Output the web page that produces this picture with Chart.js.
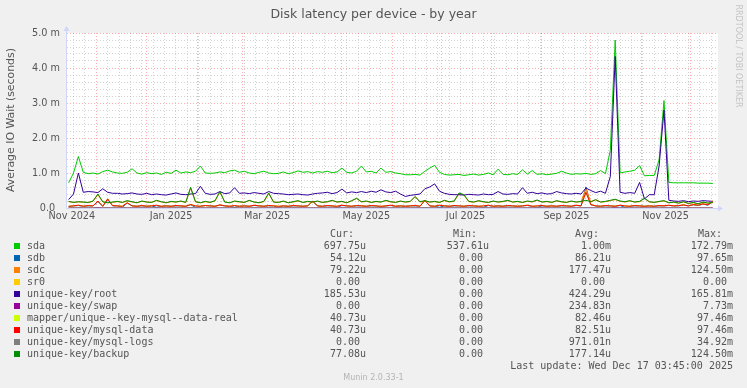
<!DOCTYPE html>
<html>
<head>
<meta charset="utf-8">
<title>Disk latency per device - by year</title>
<script src="https://cdn.jsdelivr.net/npm/chart.js@4.4.1/dist/chart.umd.min.js"></script>
<style>
  html, body { margin: 0; padding: 0; background: #f0f0f0; }
  #wrap { position: relative; width: 747px; height: 388px; overflow: hidden; font-family: 'DejaVu Sans', sans-serif; color: #555; }
  #c { position: absolute; left: 0; top: 0; }
  .t { position: absolute; white-space: pre; }
  .mono { font-family: 'DejaVu Sans Mono', monospace; font-size: 10px; line-height: 12px; }
  .box { position: absolute; width: 6px; height: 6px; }
</style>
</head>
<body>
<div id="wrap">
  <canvas id="c" width="747" height="388"></canvas>
  <div class="t" style="left:0;width:747px;top:6px;text-align:center;font-size:12.5px;line-height:16px;">Disk latency per device - by year</div>
  <div class="t" style="left:-89px;top:113px;width:200px;text-align:center;font-size:10.9px;line-height:14px;transform:rotate(-90deg);">Average IO Wait (seconds)</div>
  <div class="t" style="left:678px;top:51px;width:120px;text-align:center;font-size:8px;line-height:10px;color:#c4c4c4;transform:rotate(90deg);">RRDTOOL / TOBI OETIKER</div>
  <div id="legend"></div>
  <div class="t" style="left:0;width:747px;top:373px;text-align:center;font-size:8px;line-height:10px;color:#b4b4b4;">Munin 2.0.33-1</div>
</div>
<script>
// x positions: one point every 3 days, counted in days after 1 Nov 2024
const startDay = 13;
const stepDays = 3;
const xMin = 12.0;
const xMax = 412.2;

// values in milliseconds (axis shows "m")
const sda = [
  0.72, 1.00, 1.47, 1.02, 0.98, 1.00, 0.97, 1.04, 1.08, 1.03,
  1.00, 0.99, 1.02, 1.12, 1.00, 0.97, 1.01, 0.98, 1.00, 0.96,
  1.02, 0.99, 1.08, 1.00, 1.03, 1.01, 1.05, 1.20, 1.00, 0.99,
  1.00, 1.03, 1.01, 1.06, 1.08, 1.02, 1.05, 1.00, 0.98, 1.02,
  1.05, 1.00, 0.98, 0.99, 1.03, 0.98, 1.01, 1.06, 1.02, 1.04,
  1.00, 1.04, 1.02, 1.05, 1.01, 1.03, 1.14, 1.02, 1.00, 1.05,
  1.20, 1.03, 1.05, 1.00, 1.14, 1.02, 1.04, 1.00, 0.98, 0.95,
  0.95, 0.96, 0.94, 1.05, 1.14, 1.22, 1.02, 0.96, 0.94, 0.95,
  0.96, 0.93, 0.95, 0.97, 0.94, 0.96, 1.00, 0.95, 1.11, 0.96,
  0.95, 0.98, 0.96, 1.09, 0.97, 1.07, 0.96, 0.98, 0.95, 0.97,
  0.99, 1.05, 1.00, 0.96, 0.98, 0.97, 0.99, 0.96, 0.98, 1.07,
  0.98, 1.65, 4.80, 1.00, 1.03, 1.05, 1.08, 1.21, 0.92, 0.93,
  0.93, 1.38, 3.07, 0.73, 0.72, 0.72, 0.72, 0.72, 0.72, 0.71,
  0.71, 0.71, 0.70
];
const sdb = [
  0.04, 0.06, 0.07, 0.05, 0.06, 0.06, 0.18, 0.05, 0.24, 0.06,
  0.06, 0.02, 0.14, 0.06, 0.05, 0.06, 0.05, 0.06, 0.02, 0.05,
  0.06, 0.05, 0.06, 0.06, 0.05, 0.09, 0.02, 0.05, 0.07, 0.06,
  0.05, 0.08, 0.06, 0.05, 0.02, 0.05, 0.06, 0.05, 0.07, 0.06,
  0.05, 0.06, 0.06, 0.02, 0.06, 0.05, 0.06, 0.06, 0.05, 0.06,
  0.19, 0.06, 0.05, 0.06, 0.06, 0.02, 0.07, 0.06, 0.05, 0.06,
  0.06, 0.05, 0.06, 0.06, 0.02, 0.06, 0.07, 0.05, 0.06, 0.05,
  0.06, 0.06, 0.05, 0.21, 0.06, 0.05, 0.02, 0.06, 0.05, 0.06,
  0.06, 0.05, 0.06, 0.06, 0.05, 0.02, 0.07, 0.05, 0.06, 0.05,
  0.06, 0.06, 0.05, 0.06, 0.07, 0.05, 0.02, 0.06, 0.05, 0.06,
  0.05, 0.06, 0.06, 0.05, 0.07, 0.06, 0.60, 0.09, 0.06, 0.05,
  0.06, 0.06, 0.05, 0.07, 0.02, 0.05, 0.06, 0.06, 0.05, 0.06,
  0.05, 0.06, 0.06, 0.07, 0.06, 0.06, 0.08, 0.06, 0.09, 0.07,
  0.11, 0.08, 0.18
];
const sdc = [
  0.18, 0.16, 0.17, 0.17, 0.15, 0.19, 0.38, 0.17, 0.15, 0.16,
  0.18, 0.16, 0.20, 0.17, 0.15, 0.19, 0.17, 0.16, 0.21, 0.17,
  0.15, 0.18, 0.17, 0.19, 0.16, 0.57, 0.17, 0.15, 0.18, 0.16,
  0.20, 0.45, 0.17, 0.15, 0.19, 0.17, 0.16, 0.21, 0.17, 0.15,
  0.18, 0.41, 0.17, 0.16, 0.19, 0.15, 0.17, 0.20, 0.16, 0.18,
  0.17, 0.19, 0.16, 0.17, 0.21, 0.17, 0.18, 0.15, 0.20, 0.27,
  0.17, 0.19, 0.16, 0.18, 0.17, 0.21, 0.17, 0.16, 0.19, 0.17,
  0.18, 0.32, 0.17, 0.20, 0.17, 0.18, 0.16, 0.21, 0.17, 0.19,
  0.41, 0.37, 0.18, 0.17, 0.20, 0.17, 0.16, 0.19, 0.17, 0.18,
  0.21, 0.17, 0.18, 0.16, 0.19, 0.17, 0.22, 0.17, 0.18, 0.16,
  0.20, 0.17, 0.16, 0.19, 0.17, 0.18, 0.55, 0.17, 0.23, 0.17,
  0.18, 0.21, 0.24, 0.19, 0.17, 0.20, 0.17, 0.18, 0.27, 0.17,
  0.16, 0.18, 0.20, 0.15, 0.16, 0.14, 0.17, 0.13, 0.15, 0.12,
  0.16, 0.14, 0.15
];
const sr0 = [
  0, 0, 0, 0, 0, 0, 0, 0, 0, 0,
  0, 0, 0, 0, 0, 0, 0, 0, 0, 0,
  0, 0, 0, 0, 0, 0, 0, 0, 0, 0,
  0, 0, 0, 0, 0, 0, 0, 0, 0, 0,
  0, 0, 0, 0, 0, 0, 0, 0, 0, 0,
  0, 0, 0, 0, 0, 0, 0, 0, 0, 0,
  0, 0, 0, 0, 0, 0, 0, 0, 0, 0,
  0, 0, 0, 0, 0, 0, 0, 0, 0, 0,
  0, 0, 0, 0, 0, 0, 0, 0, 0, 0,
  0, 0, 0, 0, 0, 0, 0, 0, 0, 0,
  0, 0, 0, 0, 0, 0, 0, 0, 0, 0,
  0, 0, 0, 0, 0, 0, 0, 0, 0, 0,
  0, 0, 0, 0, 0, 0, 0, 0, 0, 0,
  0, 0, 0
];
const root = [
  0.24, 0.40, 1.00, 0.45, 0.47, 0.46, 0.44, 0.55, 0.45, 0.42,
  0.42, 0.40, 0.41, 0.43, 0.40, 0.39, 0.42, 0.38, 0.40, 0.38,
  0.37, 0.40, 0.43, 0.39, 0.38, 0.40, 0.41, 0.62, 0.42, 0.39,
  0.40, 0.47, 0.41, 0.43, 0.58, 0.42, 0.43, 0.41, 0.44, 0.42,
  0.40, 0.47, 0.42, 0.41, 0.40, 0.38, 0.39, 0.40, 0.38, 0.37,
  0.40, 0.42, 0.43, 0.45, 0.41, 0.44, 0.54, 0.43, 0.46, 0.44,
  0.47, 0.44, 0.48, 0.45, 0.52, 0.46, 0.44, 0.48, 0.40, 0.33,
  0.36, 0.38, 0.40, 0.55, 0.60, 0.69, 0.48, 0.42, 0.39, 0.38,
  0.38, 0.37, 0.39, 0.38, 0.37, 0.40, 0.38, 0.39, 0.47, 0.40,
  0.39, 0.41, 0.40, 0.58, 0.42, 0.45, 0.41, 0.43, 0.40, 0.41,
  0.47, 0.43, 0.41, 0.40, 0.42, 0.40, 0.57, 0.50, 0.44, 0.48,
  0.42, 0.90, 4.33, 0.45, 0.42, 0.44, 0.42, 0.73, 0.26, 0.38,
  0.38, 1.20, 2.80, 0.22, 0.20, 0.19, 0.21, 0.18, 0.20, 0.19,
  0.21, 0.20, 0.19
];
const swap = [
  0, 0, 0, 0, 0, 0, 0.01, 0, 0, 0,
  0, 0, 0, 0, 0, 0, 0, 0, 0, 0,
  0, 0, 0, 0, 0, 0, 0, 0, 0, 0,
  0, 0, 0, 0, 0, 0, 0, 0, 0, 0,
  0, 0, 0, 0, 0, 0, 0, 0, 0, 0,
  0, 0, 0, 0, 0, 0, 0, 0, 0, 0,
  0, 0, 0, 0, 0, 0, 0, 0, 0, 0,
  0, 0, 0, 0, 0, 0, 0, 0, 0, 0,
  0, 0, 0, 0, 0, 0, 0, 0, 0, 0,
  0, 0, 0, 0, 0, 0, 0, 0, 0, 0,
  0, 0, 0, 0, 0, 0, 0, 0, 0, 0,
  0, 0, 0.01, 0, 0, 0, 0, 0, 0, 0,
  0, 0, 0, 0, 0, 0, 0, 0, 0, 0,
  0, 0, 0
];
const mapperData = [
  0.05, 0.06, 0.08, 0.05, 0.07, 0.06, 0.20, 0.05, 0.26, 0.07,
  0.06, 0.05, 0.15, 0.06, 0.05, 0.07, 0.05, 0.06, 0.08, 0.05,
  0.06, 0.05, 0.07, 0.06, 0.05, 0.10, 0.06, 0.05, 0.07, 0.06,
  0.05, 0.09, 0.06, 0.05, 0.07, 0.05, 0.06, 0.05, 0.08, 0.06,
  0.05, 0.07, 0.06, 0.05, 0.06, 0.05, 0.07, 0.06, 0.05, 0.06,
  0.20, 0.06, 0.05, 0.07, 0.06, 0.05, 0.08, 0.06, 0.05, 0.07,
  0.06, 0.05, 0.07, 0.06, 0.05, 0.06, 0.08, 0.05, 0.06, 0.05,
  0.06, 0.07, 0.05, 0.22, 0.06, 0.05, 0.08, 0.06, 0.05, 0.07,
  0.06, 0.05, 0.07, 0.06, 0.05, 0.06, 0.08, 0.05, 0.06, 0.05,
  0.07, 0.06, 0.05, 0.06, 0.08, 0.05, 0.06, 0.07, 0.05, 0.06,
  0.05, 0.07, 0.06, 0.05, 0.08, 0.06, 0.45, 0.10, 0.06, 0.05,
  0.07, 0.06, 0.05, 0.08, 0.06, 0.05, 0.07, 0.06, 0.05, 0.06,
  0.05, 0.07, 0.06, 0.08, 0.06, 0.07, 0.09, 0.06, 0.10, 0.08,
  0.12, 0.09, 0.20
];
const mysqlData = [
  0.05, 0.06, 0.08, 0.05, 0.07, 0.06, 0.20, 0.05, 0.26, 0.07,
  0.06, 0.05, 0.15, 0.06, 0.05, 0.07, 0.05, 0.06, 0.08, 0.05,
  0.06, 0.05, 0.07, 0.06, 0.05, 0.10, 0.06, 0.05, 0.07, 0.06,
  0.05, 0.09, 0.06, 0.05, 0.07, 0.05, 0.06, 0.05, 0.08, 0.06,
  0.05, 0.07, 0.06, 0.05, 0.06, 0.05, 0.07, 0.06, 0.05, 0.06,
  0.20, 0.06, 0.05, 0.07, 0.06, 0.05, 0.08, 0.06, 0.05, 0.07,
  0.06, 0.05, 0.07, 0.06, 0.05, 0.06, 0.08, 0.05, 0.06, 0.05,
  0.06, 0.07, 0.05, 0.22, 0.06, 0.05, 0.08, 0.06, 0.05, 0.07,
  0.06, 0.05, 0.07, 0.06, 0.05, 0.06, 0.08, 0.05, 0.06, 0.05,
  0.07, 0.06, 0.05, 0.06, 0.08, 0.05, 0.06, 0.07, 0.05, 0.06,
  0.05, 0.07, 0.06, 0.05, 0.08, 0.06, 0.45, 0.10, 0.06, 0.05,
  0.07, 0.06, 0.05, 0.08, 0.06, 0.05, 0.07, 0.06, 0.05, 0.06,
  0.05, 0.07, 0.06, 0.08, 0.06, 0.07, 0.09, 0.06, 0.10, 0.08,
  0.12, 0.09, 0.20
];
const mysqlLogs = [
  0, 0, 0.01, 0, 0, 0, 0, 0, 0, 0,
  0, 0, 0, 0, 0, 0, 0, 0, 0, 0,
  0, 0, 0, 0, 0, 0.01, 0, 0, 0, 0,
  0, 0, 0, 0, 0, 0, 0, 0, 0, 0,
  0, 0, 0, 0, 0, 0, 0, 0, 0, 0,
  0, 0, 0, 0, 0, 0, 0, 0, 0, 0,
  0, 0, 0, 0, 0, 0, 0, 0, 0, 0,
  0, 0, 0, 0.01, 0, 0, 0, 0, 0, 0,
  0, 0, 0, 0, 0, 0, 0, 0, 0, 0,
  0, 0, 0, 0, 0, 0, 0, 0, 0, 0,
  0, 0, 0, 0, 0, 0, 0.01, 0, 0, 0,
  0, 0, 0, 0, 0, 0, 0, 0, 0, 0,
  0, 0, 0, 0, 0, 0, 0, 0, 0, 0,
  0, 0, 0
];
const backup = [
  0.19, 0.16, 0.18, 0.17, 0.16, 0.20, 0.40, 0.18, 0.15, 0.17,
  0.19, 0.16, 0.21, 0.18, 0.15, 0.20, 0.17, 0.16, 0.22, 0.18,
  0.15, 0.19, 0.17, 0.20, 0.16, 0.59, 0.18, 0.15, 0.19, 0.16,
  0.21, 0.47, 0.17, 0.15, 0.20, 0.18, 0.16, 0.22, 0.17, 0.15,
  0.19, 0.43, 0.17, 0.16, 0.20, 0.15, 0.18, 0.21, 0.16, 0.19,
  0.17, 0.20, 0.16, 0.18, 0.22, 0.17, 0.19, 0.15, 0.21, 0.28,
  0.18, 0.20, 0.16, 0.19, 0.17, 0.22, 0.18, 0.16, 0.20, 0.17,
  0.19, 0.33, 0.18, 0.21, 0.17, 0.19, 0.16, 0.22, 0.18, 0.20,
  0.43, 0.38, 0.19, 0.17, 0.21, 0.18, 0.16, 0.20, 0.17, 0.19,
  0.22, 0.17, 0.19, 0.16, 0.20, 0.18, 0.23, 0.17, 0.19, 0.16,
  0.21, 0.18, 0.16, 0.20, 0.17, 0.19, 0.22, 0.18, 0.24, 0.17,
  0.19, 0.22, 0.25, 0.20, 0.18, 0.21, 0.17, 0.19, 0.28, 0.18,
  0.16, 0.19, 0.21, 0.15, 0.17, 0.14, 0.18, 0.13, 0.16, 0.12,
  0.17, 0.14, 0.16
];

// legend
const names = ['sda', 'sdb', 'sdc', 'sr0', 'unique-key/root', 'unique-key/swap',
  'mapper/unique--key-mysql--data-real', 'unique-key/mysql-data', 'unique-key/mysql-logs', 'unique-key/backup'];
const colors = ['#00CC00', '#0066B3', '#FF8000', '#FFCC00', '#330099', '#990099',
  '#CCFF00', '#FF0000', '#808080', '#008F00'];
const curText = ['697.75u', '54.12u', '79.22u', '0.00 ', '185.53u', '0.00 ', '40.73u', '40.73u', '0.00 ', '77.08u'];
const minText = ['537.61u', '0.00 ', '0.00 ', '0.00 ', '0.00 ', '0.00 ', '0.00 ', '0.00 ', '0.00 ', '0.00 '];
const avgText = ['1.00m', '86.21u', '177.47u', '0.00 ', '424.29u', '234.83n', '82.46u', '82.51u', '971.01n', '177.14u'];
const maxText = ['172.79m', '97.65m', '124.50m', '0.00 ', '165.81m', '7.73m', '97.46m', '97.46m', '34.92m', '124.50m'];
const lastUpdate = 'Last update: Wed Dec 17 03:45:00 2025';

// axis ticks (days after 1 Nov 2024)
const monthStarts = [30, 61, 92, 120, 151, 181, 212, 242, 273, 304, 334, 365, 395];
const firstWeekLine = 16;
const monthLabels = ['Nov 2024', 'Jan 2025', 'Mar 2025', 'May 2025', 'Jul 2025', 'Sep 2025', 'Nov 2025'];
const monthLabelDays = [15, 76, 135, 196, 257, 319, 380];

const series = [sda, sdb, sdc, sr0, root, swap, mapperData, mysqlData, mysqlLogs, backup];

const gridGray = 'rgba(140, 140, 140, 0.38)';
const gridRed = 'rgba(255, 0, 0, 0.32)';
const axisColor = '#CFD6F8';
const fontColor = '#555555';

function buildLegend() {
  const el = document.getElementById('legend');
  let html = '';
  const head = [['Cur:', 330], ['Min:', 453], ['Avg:', 575], ['Max:', 698]];
  head.forEach(([txt, left]) => {
    html += `<div class="t mono" style="left:${left}px;top:227.5px;">${txt}</div>`;
  });
  names.forEach((name, i) => {
    const top = 239.5 + i * 12;
    html += `<div class="box" style="left:14px;top:${top + 3}px;background:${colors[i]};"></div>`;
    html += `<div class="t mono" style="left:27px;top:${top}px;">${name}</div>`;
    html += `<div class="t mono" style="right:381px;top:${top}px;text-align:right;">${curText[i]}</div>`;
    html += `<div class="t mono" style="right:258px;top:${top}px;text-align:right;">${minText[i]}</div>`;
    html += `<div class="t mono" style="right:136px;top:${top}px;text-align:right;">${avgText[i]}</div>`;
    html += `<div class="t mono" style="right:14px;top:${top}px;text-align:right;">${maxText[i]}</div>`;
  });
  html += `<div class="t mono" style="right:14px;top:359.5px;text-align:right;">${lastUpdate}</div>`;
  el.innerHTML = html;
}

function xTicks() {
  const ticks = [];
  for (let d = firstWeekLine; d <= xMax; d += 7) {
    if (!monthStarts.includes(d)) ticks.push({ value: d, kind: 'week' });
  }
  monthStarts.forEach(d => ticks.push({ value: d, kind: 'month' }));
  monthLabelDays.forEach((d, i) => ticks.push({ value: d, kind: 'label', text: monthLabels[i] }));
  return ticks;
}

const decor = {
  id: 'decor',
  beforeDraw(chart) {
    const { ctx, chartArea: a } = chart;
    ctx.save();
    ctx.fillStyle = '#ffffff';
    ctx.fillRect(a.left, a.top, a.right - a.left, a.bottom - a.top);
    ctx.restore();
  },
  beforeDatasetsDraw(chart) {
    const { ctx, chartArea: a } = chart;
    ctx.save();
    ctx.strokeStyle = axisColor;
    ctx.fillStyle = axisColor;
    ctx.lineWidth = 1;
    ctx.beginPath();
    ctx.moveTo(a.left - 0.5, a.bottom + 0.5);
    ctx.lineTo(a.left - 0.5, a.top - 3);
    ctx.moveTo(a.left - 0.5, a.bottom + 0.5);
    ctx.lineTo(a.right + 1, a.bottom + 0.5);
    ctx.stroke();
    // arrows
    ctx.beginPath();
    ctx.moveTo(a.left - 3.5, a.top - 2);
    ctx.lineTo(a.left + 2.5, a.top - 2);
    ctx.lineTo(a.left - 0.5, a.top - 7);
    ctx.closePath();
    ctx.fill();
    ctx.beginPath();
    ctx.moveTo(a.right, a.bottom - 2.5);
    ctx.lineTo(a.right, a.bottom + 3.5);
    ctx.lineTo(a.right + 5, a.bottom + 0.5);
    ctx.closePath();
    ctx.fill();
    ctx.restore();
  }
};

buildLegend();

Chart.defaults.font.family = "'DejaVu Sans', sans-serif";

new Chart(document.getElementById('c'), {
  type: 'line',
  data: {
    datasets: series.map((vals, i) => ({
      label: names[i],
      data: vals.map((v, k) => ({ x: startDay + k * stepDays, y: v })),
      borderColor: colors[i],
      borderWidth: 1,
      pointRadius: 0,
      tension: 0,
      fill: false,
      order: series.length - i
    }))
  },
  options: {
    responsive: false,
    animation: false,
    layout: { padding: { left: 0, top: 33, right: 29, bottom: 0 } },
    plugins: { legend: { display: false }, tooltip: { enabled: false }, title: { display: false } },
    scales: {
      x: {
        type: 'linear',
        min: xMin,
        max: xMax,
        afterBuildTicks: scale => { scale.ticks = xTicks(); },
        afterFit: scale => { scale.height = 180; },
        grid: {
          drawTicks: false,
          color: ctx => {
            const t = ctx.tick;
            if (!t) return 'transparent';
            if (t.kind === 'month') return gridRed;
            if (t.kind === 'week') return gridGray;
            return 'transparent';
          }
        },
        border: { display: false, dash: [1, 2] },
        ticks: {
          autoSkip: false,
          maxRotation: 0,
          padding: 3,
          color: fontColor,
          font: { size: 9.7 },
          callback: (v, i, ticks) => ticks[i].kind === 'label' ? ticks[i].text : ''
        }
      },
      y: {
        min: 0,
        max: 5,
        afterBuildTicks: scale => {
          const t = [];
          for (let k = 0; k <= 25; k++) t.push({ value: k / 5 });
          scale.ticks = t;
        },
        afterFit: scale => { scale.width = 67; },
        grid: {
          drawTicks: false,
          color: ctx => {
            const t = ctx.tick;
            if (!t) return 'transparent';
            return Math.abs(t.value - Math.round(t.value)) < 1e-6 ? gridRed : gridGray;
          }
        },
        border: { display: false, dash: [1, 2] },
        ticks: {
          autoSkip: false,
          padding: 7,
          color: fontColor,
          font: { size: 9.7 },
          callback: v => {
            if (Math.abs(v - Math.round(v)) > 1e-6) return '';
            return v === 0 ? '0.0\u2002' : v.toFixed(1) + ' m';
          }
        }
      }
    }
  },
  plugins: [decor]
});
</script>
</body>
</html>
